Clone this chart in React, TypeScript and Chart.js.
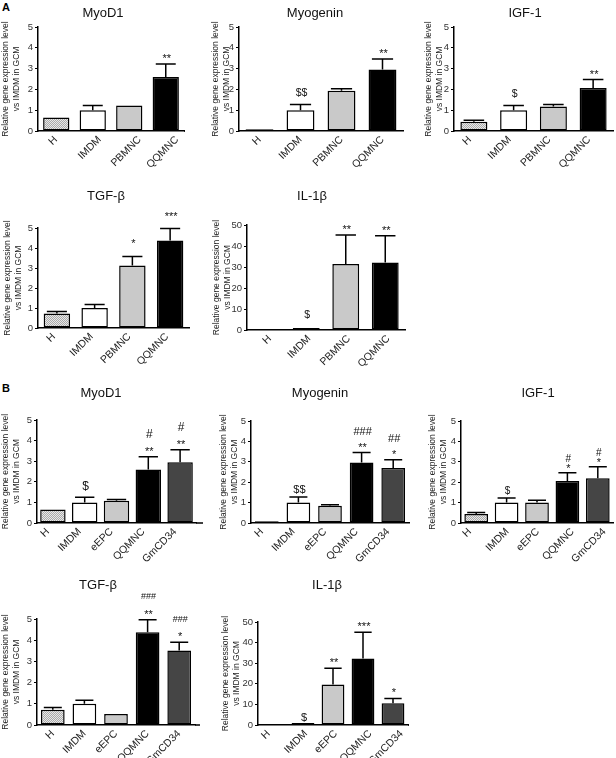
import React, { useEffect, useRef } from 'react';
import { Chart, registerables } from 'chart.js';
Chart.register(...registerables);

// ---------- DATA ----------
const catsA = ['H', 'IMDM', 'PBMNC', 'QQMNC'];
const catsB = ['H', 'IMDM', 'eEPC', 'QQMNC', 'GmCD34'];

const aMyoD1 = [0.65, 1.0, 1.22, 2.6];
const aMyoD1Err = [0.04, 0.23, 0.04, 0.62];
const aMyoD1Sig = [[], [], [], ['**']];

const aMyog = [0.08, 1.0, 1.93, 2.96];
const aMyogErr = [0.02, 0.28, 0.1, 0.5];
const aMyogSig = [[], ['$$'], [], ['**']];

const aIgf1 = [0.44, 1.0, 1.18, 2.07];
const aIgf1Err = [0.08, 0.22, 0.1, 0.4];
const aIgf1Sig = [[], ['$'], [], ['**']];

const aTgfb = [0.72, 1.0, 3.13, 4.37];
const aTgfbErr = [0.1, 0.17, 0.45, 0.6];
const aTgfbSig = [[], [], ['*'], ['***']];

const aIl1b = [0.2, 1.0, 31.4, 32.2];
const aIl1bErr = [0.05, 0.35, 13.8, 12.7];
const aIl1bSig = [[], ['$'], ['**'], ['**']];

const bMyoD1 = [0.65, 1.0, 1.08, 2.6, 2.95];
const bMyoD1Err = [0.04, 0.25, 0.06, 0.62, 0.6];
const bMyoD1Sig = [[], ['$'], [], ['**', '#'], ['**', '#']];

const bMyog = [0.08, 1.0, 0.85, 2.97, 2.7];
const bMyogErr = [0.02, 0.28, 0.05, 0.48, 0.4];
const bMyogSig = [[], ['$$'], [], ['**', '###'], ['*', '##']];

const bIgf1 = [0.44, 1.0, 1.0, 2.06, 2.19];
const bIgf1Err = [0.08, 0.22, 0.12, 0.4, 0.57];
const bIgf1Sig = [[], ['$'], [], ['*', '#'], ['*', '#']];

const bTgfb = [0.72, 1.0, 0.52, 4.37, 3.52];
const bTgfbErr = [0.1, 0.17, 0.04, 0.6, 0.38];
const bTgfbSig = [[], [], [], ['**', '###'], ['*', '###']];

const bIl1b = [0.2, 1.0, 19.7, 32.3, 10.6];
const bIl1bErr = [0.05, 0.4, 7.8, 12.7, 2.3];
const bIl1bSig = [[], ['$'], ['**'], ['***'], ['*']];

const yTitle = ['Relative gene expression level', 'vs IMDM in GCM'];

// ---------- LAYOUT / STYLE ----------
const FONT = '"Liberation Sans", Arial, Helvetica, sans-serif';

type Panel = {
  title: string; cats: string[]; vals: number[]; errs: number[]; sig: string[][];
  max: number; step: number;
  L: number; T: number; R: number; B: number; wy: number;
  tx: number; ty: number; ext: number;
  gapStar: number; gapSym: number; lineStep: number; symSize: number; barPct: number;
  lblCenter: boolean; lblOff: number;
};

const panels: Panel[] = [
  { title: 'MyoD1', cats: catsA, vals: aMyoD1, errs: aMyoD1Err, sig: aMyoD1Sig, max: 5, step: 1,
    L: 38, T: 27, R: 184, B: 131, wy: 38, tx: 103, ty: 13, ext: 1, gapStar: 2, gapSym: 8, lineStep: 15, symSize: 10, barPct: 0.72,
    lblCenter: true, lblOff: -3 },
  { title: 'Myogenin', cats: catsA, vals: aMyog, errs: aMyogErr, sig: aMyogSig, max: 5, step: 1,
    L: 239, T: 27, R: 403, B: 131, wy: 29, tx: 315, ty: 13, ext: 0, gapStar: 2, gapSym: 8, lineStep: 15, symSize: 10.5, barPct: 0.68,
    lblCenter: false, lblOff: 0 },
  { title: 'IGF-1', cats: catsA, vals: aIgf1, errs: aIgf1Err, sig: aIgf1Sig, max: 5, step: 1,
    L: 454, T: 27, R: 613, B: 131, wy: 31, tx: 525, ty: 13, ext: 0, gapStar: 2, gapSym: 9, lineStep: 15, symSize: 10.5, barPct: 0.68,
    lblCenter: false, lblOff: -4 },
  { title: 'TGF-\u03b2', cats: catsA, vals: aTgfb, errs: aTgfbErr, sig: aTgfbSig, max: 5, step: 1,
    L: 38, T: 228, R: 189, B: 328, wy: 36, tx: 106, ty: 196, ext: 0, gapStar: 9, gapSym: 8, lineStep: 15, symSize: 10, barPct: 0.7,
    lblCenter: false, lblOff: -3 },
  { title: 'IL-1\u03b2', cats: catsA, vals: aIl1b, errs: aIl1bErr, sig: aIl1bSig, max: 50, step: 10,
    L: 247, T: 225, R: 405, B: 330, wy: 36, tx: 312, ty: 196, ext: 0, gapStar: 2, gapSym: 9, lineStep: 15, symSize: 10.5, barPct: 0.68,
    lblCenter: false, lblOff: 3 },
  { title: 'MyoD1', cats: catsB, vals: bMyoD1, errs: bMyoD1Err, sig: bMyoD1Sig, max: 5, step: 1,
    L: 37, T: 420, R: 196, B: 523, wy: 37, tx: 101, ty: 393, ext: 7, gapStar: 2, gapSym: 7, lineStep: 16.5, symSize: 12, barPct: 0.8,
    lblCenter: false, lblOff: -5 },
  { title: 'Myogenin', cats: catsB, vals: bMyog, errs: bMyogErr, sig: bMyogSig, max: 5, step: 1,
    L: 251, T: 421, R: 409, B: 523, wy: 33, tx: 320, ty: 393, ext: 0, gapStar: 2, gapSym: 4, lineStep: 15.5, symSize: 11, barPct: 0.75,
    lblCenter: false, lblOff: -5 },
  { title: 'IGF-1', cats: catsB, vals: bIgf1, errs: bIgf1Err, sig: bIgf1Sig, max: 5, step: 1,
    L: 461, T: 421, R: 613, B: 523, wy: 34, tx: 538, ty: 393, ext: 0, gapStar: 1, gapSym: 4, lineStep: 10, symSize: 10, barPct: 0.78,
    lblCenter: true, lblOff: -9 },
  { title: 'TGF-\u03b2', cats: catsB, vals: bTgfb, errs: bTgfbErr, sig: bTgfbSig, max: 5, step: 1,
    L: 37, T: 619, R: 195, B: 725, wy: 37, tx: 98, ty: 585, ext: 5, gapStar: 2, gapSym: 4, lineStep: 18.5, symSize: 9, barPct: 0.75,
    lblCenter: false, lblOff: 0 },
  { title: 'IL-1\u03b2', cats: catsB, vals: bIl1b, errs: bIl1bErr, sig: bIl1bSig, max: 50, step: 10,
    L: 258, T: 622, R: 408, B: 725, wy: 38, tx: 327, ty: 585, ext: 1, gapStar: 2, gapSym: 1, lineStep: 15, symSize: 11, barPct: 0.76,
    lblCenter: true, lblOff: -7 },
];

const X_AXIS_H = 50;
const W = 616;
const H = 758;

function makePattern(ctx: CanvasRenderingContext2D): CanvasPattern | string {
  const pc = document.createElement('canvas');
  pc.width = 2; pc.height = 2;
  const g = pc.getContext('2d');
  if (!g) return '#cccccc';
  g.fillStyle = '#e8e8e8';
  g.fillRect(0, 0, 2, 2);
  g.fillStyle = '#aaaaaa';
  g.fillRect(0, 0, 1, 1);
  g.fillRect(1, 1, 1, 1);
  return ctx.createPattern(pc, 'repeat') || '#cccccc';
}

function fillFor(cat: string, pat: CanvasPattern | string) {
  switch (cat) {
    case 'H': return pat;
    case 'IMDM': return '#ffffff';
    case 'PBMNC':
    case 'eEPC': return '#c9c9c9';
    case 'QQMNC': return '#000000';
    case 'GmCD34': return '#454545';
    default: return '#888';
  }
}

function PanelChart({ p }: { p: Panel }) {
  const ref = useRef<HTMLCanvasElement | null>(null);
  const left = p.L - p.wy;
  const top = p.ty - 12;
  const padTop = p.T - top;
  const rightEdge = Math.min(W, p.R + p.ext + 8);
  const width = rightEdge - left;
  const height = padTop + (p.B - p.T) + X_AXIS_H;
  const padRight = rightEdge - p.R;

  useEffect(() => {
    const canvas = ref.current;
    if (!canvas) return;
    const ctx0 = canvas.getContext('2d');
    if (!ctx0) return;
    const pat = makePattern(ctx0);

    const panelPlugin = {
      id: 'panelDeco',
      afterDatasetsDraw(chart: any) {
        const ctx = chart.ctx as CanvasRenderingContext2D;
        const meta = chart.getDatasetMeta(0);
        const ys = chart.scales.y;
        ctx.save();
        meta.data.forEach((el: any, i: number) => {
          const v = p.vals[i];
          const e = p.errs[i];
          const x = el.x;
          const w = el.width;
          const yBar = ys.getPixelForValue(v);
          const yErr = ys.getPixelForValue(v + e);
          ctx.strokeStyle = '#000';
          ctx.lineWidth = 1.5;
          if (e > 0 && yBar - yErr > 1) {
            ctx.beginPath();
            ctx.moveTo(x, yBar);
            ctx.lineTo(x, yErr);
            ctx.moveTo(x - w * 0.38, yErr);
            ctx.lineTo(x + w * 0.38, yErr);
            ctx.stroke();
          }
          const marks = p.sig[i] || [];
          let base = yErr;
          marks.forEach((txt, k) => {
            const star = txt.includes('*');
            const size = star ? 11 : p.symSize;
            if (k === 0) base = yErr - (star ? p.gapStar : p.gapSym);
            else base = base - p.lineStep;
            ctx.font = `${size}px ${FONT}`;
            ctx.fillStyle = '#111';
            ctx.textAlign = 'center';
            ctx.textBaseline = 'alphabetic';
            ctx.fillText(txt, x + 1, base);
          });
        });
        ctx.restore();
      },
      afterDraw(chart: any) {
        const ctx = chart.ctx as CanvasRenderingContext2D;
        const ca = chart.chartArea;
        const xs = chart.scales.x;
        ctx.save();
        if (p.ext > 0) {
          ctx.strokeStyle = '#000';
          ctx.lineWidth = 1.5;
          ctx.beginPath();
          ctx.moveTo(ca.right, ca.bottom);
          ctx.lineTo(ca.right + p.ext, ca.bottom);
          ctx.stroke();
        }
        // category labels, rotated 45 degrees
        ctx.font = `10.5px ${FONT}`;
        ctx.fillStyle = '#222';
        ctx.textAlign = 'right';
        ctx.textBaseline = 'middle';
        p.cats.forEach((lab, i) => {
          const tx = xs.getPixelForTick(i);
          const lw = ctx.measureText(lab).width;
          const ex = tx + p.lblOff + (p.lblCenter ? lw * 0.3535 : 0);
          const ey = ca.bottom + 7;
          ctx.save();
          ctx.translate(ex, ey);
          ctx.rotate(-Math.PI / 4);
          ctx.fillText(lab, 0, 0);
          ctx.restore();
        });
        // panel title
        ctx.font = `13px ${FONT}`;
        ctx.fillStyle = '#111';
        ctx.textAlign = 'center';
        ctx.textBaseline = 'middle';
        ctx.fillText(p.title, p.tx - left, p.ty - top);
        ctx.restore();
      },
    };

    const chart = new Chart(canvas, {
      type: 'bar',
      data: {
        labels: p.cats,
        datasets: [{
          data: p.vals,
          backgroundColor: p.cats.map((c) => fillFor(c, pat)) as any,
          borderColor: '#000',
          borderWidth: 1.5,
          borderSkipped: false,
          barPercentage: p.barPct,
          categoryPercentage: 1,
        }],
      },
      options: {
        responsive: false,
        animation: false,
        devicePixelRatio: 1,
        layout: { padding: { left: 0, top: padTop, right: padRight, bottom: 0 } },
        plugins: { legend: { display: false }, tooltip: { enabled: false }, title: { display: false } },
        scales: {
          x: {
            grid: { display: false, drawTicks: false },
            border: { display: true, color: '#000', width: 1.5 },
            ticks: { display: false, autoSkip: false },
            afterFit: (s: any) => { s.height = X_AXIS_H; },
          },
          y: {
            min: 0, max: p.max,
            ticks: { stepSize: p.step, font: { family: FONT, size: 9.5 }, color: '#333', padding: 2 },
            grid: { drawOnChartArea: false, drawTicks: true, tickLength: 3, color: '#000', lineWidth: 1 },
            border: { display: true, color: '#000', width: 1.5 },
            title: {
              display: true, text: yTitle, color: '#222', padding: 0,
              font: { family: FONT, size: 8.5, lineHeight: 1.3 },
            },
            afterFit: (s: any) => { s.width = p.wy; },
          },
        },
      } as any,
      plugins: [panelPlugin],
    });
    return () => chart.destroy();
  }, []);

  return (
    <canvas
      ref={ref}
      width={width}
      height={height}
      style={{ position: 'absolute', left, top, width, height }}
    />
  );
}

export default function App() {
  return (
    <div style={{ position: 'absolute', left: 0, top: 0, width: W, height: H, overflow: 'hidden', background: '#fff' }}>
      <div style={{ position: 'absolute', left: 2, top: 1, font: `bold 11px ${FONT}`, color: '#000' }}>A</div>
      <div style={{ position: 'absolute', left: 2, top: 382, font: `bold 11px ${FONT}`, color: '#000' }}>B</div>
      {panels.map((p, i) => <PanelChart key={i} p={p} />)}
    </div>
  );
}
